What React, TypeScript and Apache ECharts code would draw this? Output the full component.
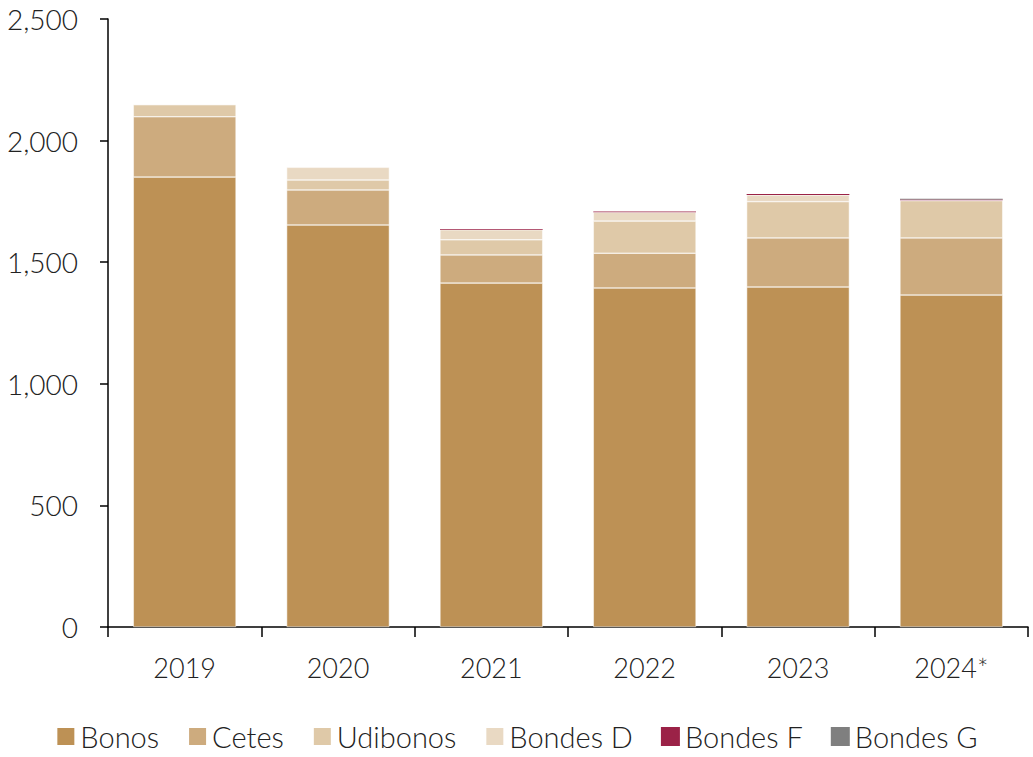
import React, { useEffect, useRef } from "react";
import * as echarts from "echarts";

const years = ["2019", "2020", "2021", "2022", "2023", "2024*"];
const bonos = [1850, 1653, 1414, 1394, 1398, 1365];
const cetes = [248, 144, 116, 143, 202, 235];
const udibonos = [50, 41, 62, 132, 149, 153];
const bondesD = [0, 52, 41, 36, 27, 2];
const bondesF = [0, 0, 3, 3, 4, 3];
const bondesG = [0, 0, 0, 0, 0, 3];

const seriesDefs = [
  { name: "Bonos", data: bonos, color: "#bd9155", border: true },
  { name: "Cetes", data: cetes, color: "#cdab7e", border: true },
  { name: "Udibonos", data: udibonos, color: "#dfc9a8", border: true },
  { name: "Bondes D", data: bondesD, color: "#e9d9c3", border: true },
  { name: "Bondes F", data: bondesF, color: "#9b2247", border: false },
  { name: "Bondes G", data: bondesG, color: "#7f7f7f", border: false },
];

const FONT = "Lato";

export default function App() {
  const ref = useRef<HTMLDivElement>(null);
  useEffect(() => {
    const chart = echarts.init(ref.current!, null, { renderer: "svg" });
    chart.setOption({
      animation: false,
      textStyle: { fontFamily: FONT },
      grid: {
        left: 108,
        right: 5,
        top: 19,
        bottom: 130,
        containLabel: false,
        outerBoundsMode: "none",
      },
      legend: {
        bottom: 6,
        left: "center",
        padding: 0,
        itemWidth: 19,
        itemHeight: 19,
        itemGap: 28,
        icon: "rect",
        textStyle: {
          fontSize: 29,
          lineHeight: 29,
          color: "#222",
          fontFamily: FONT,
          fontWeight: 300,
        },
        data: seriesDefs.map((s) => s.name),
      },
      xAxis: {
        type: "category",
        data: years,
        axisLine: { lineStyle: { color: "#000", width: 1.5 } },
        axisTick: { show: true, length: 10, lineStyle: { color: "#000", width: 1.5 } },
        axisLabel: { fontSize: 27, color: "#222", margin: 27, fontFamily: FONT, fontWeight: 300 },
      },
      yAxis: {
        type: "value",
        min: 0,
        max: 2500,
        interval: 500,
        axisLine: { show: true, lineStyle: { color: "#000", width: 1.5 } },
        axisTick: { show: true, length: 8, lineStyle: { color: "#000", width: 1.5 } },
        splitLine: { show: false },
        axisLabel: {
          fontSize: 28,
          color: "#222",
          margin: 30,
          fontFamily: FONT,
          fontWeight: 300,
          formatter: (v: number) => v.toLocaleString("en-US"),
        },
      },
      series: seriesDefs.map((s) => ({
        name: s.name,
        type: "bar",
        stack: "total",
        barWidth: "67%",
        data: s.data,
        itemStyle: s.border
          ? { color: s.color, borderColor: "#fff", borderWidth: 0.5 }
          : { color: s.color },
      })),
    });
    return () => chart.dispose();
  }, []);
  return (
    <div
      ref={ref}
      style={{ position: "absolute", left: 0, top: 0, width: 1033, height: 757 }}
    />
  );
}
